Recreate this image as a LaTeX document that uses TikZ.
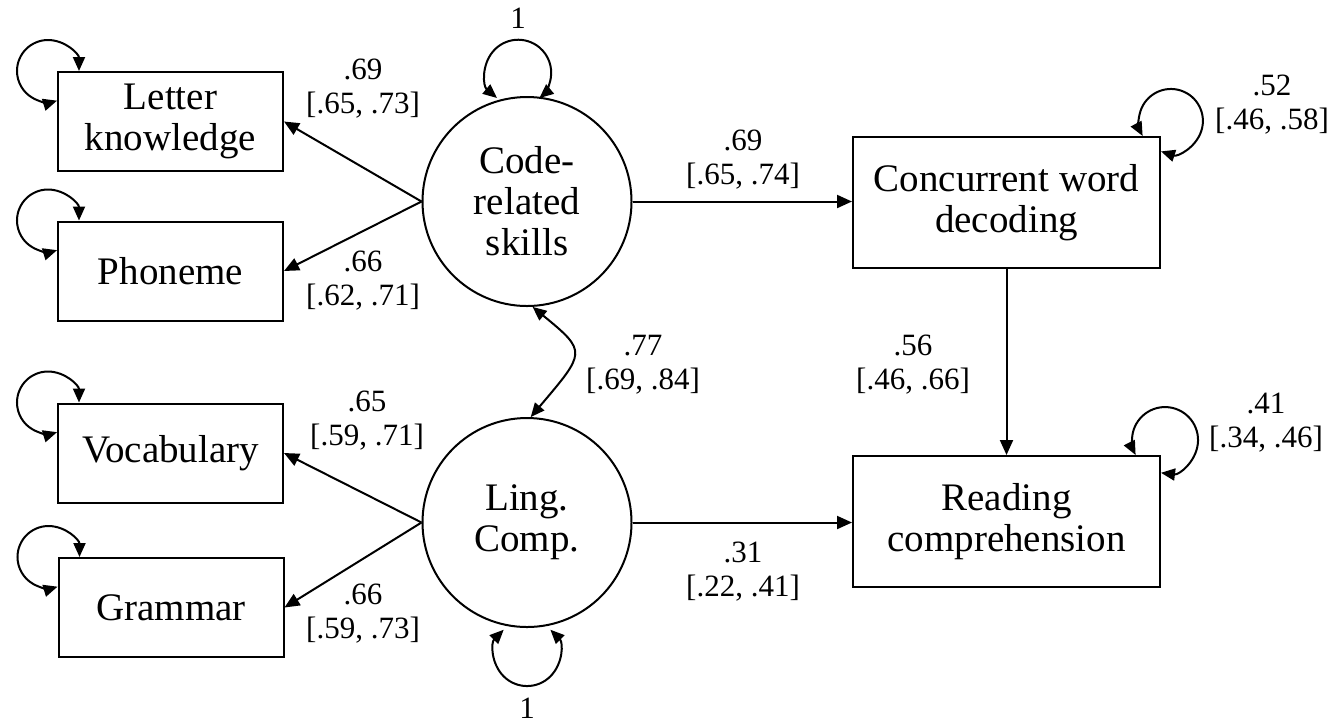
\documentclass[tikz,border=0pt]{standalone}
\usepackage{fontspec}
\setmainfont{Liberation Serif}
\usetikzlibrary{arrows.meta,calc}
\begin{document}
\begin{tikzpicture}[x=0.5pt,y=-0.5pt,
  line width=1pt,
  tip/.style={-{Triangle[length=7.5pt,width=6.5pt]}},
  dbl/.style={{Triangle[length=7pt,width=6pt]}-{Triangle[length=7pt,width=6pt]}},
  obs/.style={draw, minimum width=112.5pt, minimum height=49.5pt, inner sep=0pt, align=center, font=\fontsize{19.5}{20.5}\selectfont},
  obsw/.style={obs, minimum width=153.5pt, minimum height=65.5pt},
  lat/.style={draw, circle, minimum size=104.5pt, inner sep=0pt, align=center, font=\fontsize{19.5}{20.5}\selectfont},
  lab/.style={align=center, inner sep=0pt, font=\fontsize{15.5}{17}\selectfont}
]
\fill[white] (0,0) rectangle (1336,725);
\useasboundingbox (0,0) rectangle (1336,725);

% nodes
\node[obs] (letter) at (170.5,121.5) {Letter\\knowledge};
\node[obs] (phon) at (170.5,271) {Phoneme};
\node[obs] (voc) at (170.5,453) {Vocabulary};
\node[obs] (gram) at (171,607.5) {Grammar};
\node[lat] (code) at (527,201.5) {Code-\\related\\skills};
\node[lat] (ling) at (527,522.5) {Ling.\\Comp.};
\node[obsw] (conc) at (1006.5,202.5) {Concurrent word\\decoding};
\node[obsw] (read) at (1006.5,521.5) {Reading\\comprehension};

% paths
\draw[tip] (code.west) -- (letter.east);
\draw[tip] (code.west) -- (phon.east);
\draw[tip] (ling.west) -- (voc.east);
\draw[tip] (ling.west) -- (gram.east);
\draw[tip] (code.east) -- (code.east -| conc.west);
\draw[tip] (ling.east) -- (ling.east -| read.west);
\draw[tip] (conc.south) -- (read.north);
\draw[dbl] (code.-87) .. controls +(55,45) and +(55,-65) .. (ling.88);

% residual loops
\draw[dbl] ($(letter.north west)+(22,0)$) arc[start angle=0,end angle=-287,radius=31];
\draw[dbl] ($(phon.north west)+(22,0)$) arc[start angle=0,end angle=-287,radius=31];
\draw[dbl] ($(voc.north west)+(22,0)$) arc[start angle=0,end angle=-287,radius=31];
\draw[dbl] ($(gram.north west)+(22,0)$) arc[start angle=0,end angle=-287,radius=31];
\draw[dbl] ($(conc.north east)+(0,15.4)$) arc[start angle=108,end angle=-208,radius=32];
\draw[dbl] ($(read.north east)+(0,17.8)$) arc[start angle=97,end angle=-207,radius=33];
\draw[dbl] ($(code.north)+(-30,2)$) arc[start angle=130,end angle=410,radius=33];
\draw[dbl] ($(ling.south)+(-23.3,1.7)$) arc[start angle=225,end angle=-45,radius=33];

% labels
\node[lab] (l1) at (363,89) {.69\\{[.65, .73]}};
\node[lab] (l2) at (363,281) {.66\\{[.62, .71]}};
\node[lab] (l3) at (367,421) {.65\\{[.59, .71]}};
\node[lab] (l4) at (363,614) {.66\\{[.59, .73]}};
\node[lab] (l5) at (743,160) {.69\\{[.65, .74]}};
\node[lab] (l6) at (643,365) {.77\\{[.69, .84]}};
\node[lab] (l7) at (743,572) {.31\\{[.22, .41]}};
\node[lab] (l8) at (913,365) {.56\\{[.46, .66]}};
\node[lab] (l9) at (1272,105) {.52\\{[.46, .58]}};
\node[lab] (l10) at (1266,423) {.41\\{[.34, .46]}};
\node[lab] (l11) at (518,18) {1};
\node[lab] (l12) at (527,708) {1};
\end{tikzpicture}
\end{document}
